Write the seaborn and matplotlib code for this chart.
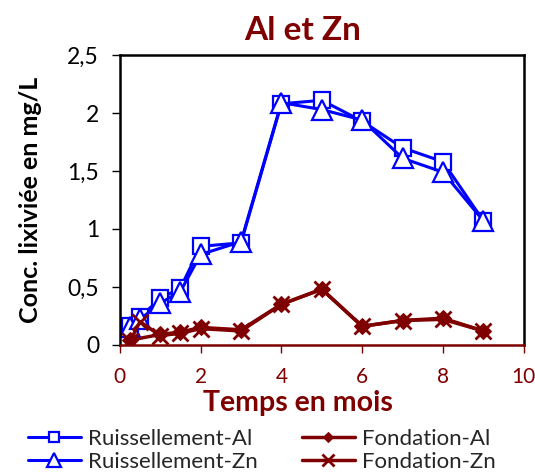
import numpy as np
import pandas as pd
import matplotlib
matplotlib.use("Agg")
import matplotlib.pyplot as plt
import seaborn as sns

# -------------------------------
# Data
# -------------------------------
x_ruis = [0.25, 0.5, 1, 1.5, 2, 3, 4, 5, 6, 7, 8, 9]
ruis_al = [0.16, 0.24, 0.40, 0.49, 0.85, 0.88, 2.08, 2.11, 1.93, 1.70, 1.58, 1.07]
ruis_zn = [0.15, 0.22, 0.36, 0.46, 0.78, 0.89, 2.09, 2.03, 1.94, 1.61, 1.49, 1.07]

x_fond_al = [0.25, 1, 1.5, 2, 3, 4, 5, 6, 7, 8, 9]
fond_al = [0.04, 0.09, 0.11, 0.15, 0.13, 0.35, 0.48, 0.16, 0.21, 0.23, 0.12]
x_fond_zn = [0.25, 0.5, 1, 1.5, 2, 3, 4, 5, 6, 7, 8, 9]
fond_zn = [0.03, 0.20, 0.08, 0.10, 0.14, 0.12, 0.35, 0.48, 0.16, 0.21, 0.22, 0.12]

y_ticks = [0, 0.5, 1, 1.5, 2, 2.5]
y_ticklabels = ["0", "0,5", "1", "1,5", "2", "2,5"]
x_ticks = [0, 2, 4, 6, 8, 10]

blue = "#0000FF"
dark_red = "#7F0000"

sns.set_style("white")
plt.rcParams["font.family"] = ["Lato", "DejaVu Sans"]

fig = plt.figure(figsize=(5.35, 4.75), dpi=100)
ax = fig.add_axes([0.224, 0.274, 0.755, 0.610])

sns.lineplot(x=x_ruis, y=ruis_al, ax=ax, color=blue, linewidth=2.2,
             marker="s", markersize=11, markerfacecolor="white",
             markeredgecolor=blue, markeredgewidth=1.6, label="Ruissellement-Al")
sns.lineplot(x=x_ruis, y=ruis_zn, ax=ax, color=blue, linewidth=2.2,
             marker="^", markersize=14, markerfacecolor="white",
             markeredgecolor=blue, markeredgewidth=1.6, label="Ruissellement-Zn")
sns.lineplot(x=x_fond_al, y=fond_al, ax=ax, color=dark_red, linewidth=2.5,
             marker="D", markersize=8, markerfacecolor=dark_red,
             markeredgecolor=dark_red, label="Fondation-Al")
sns.lineplot(x=x_fond_zn, y=fond_zn, ax=ax, color=dark_red, linewidth=2.5,
             marker="x", markersize=12, markeredgewidth=2,
             markeredgecolor=dark_red, label="Fondation-Zn")

ax.set_xlim(0, 10)
ax.set_ylim(0, 2.5)
ax.set_xticks(x_ticks)
ax.set_xticklabels([str(v) for v in x_ticks])
ax.set_yticks(y_ticks)
ax.set_yticklabels(y_ticklabels)

for side in ["top", "right", "left"]:
    ax.spines[side].set_color("black")
    ax.spines[side].set_linewidth(1.8)
ax.spines["bottom"].set_color(dark_red)
ax.spines["bottom"].set_linewidth(1.8)

ax.tick_params(axis="x", colors=dark_red, labelsize=15, direction="out",
               length=6, width=1, bottom=True, pad=10)
ax.tick_params(axis="y", colors="black", labelsize=16.5, direction="out",
               length=6, width=1, left=True, pad=9)

ax.set_title("Al et Zn", color=dark_red, fontsize=24, fontweight="bold",
             x=0.453, pad=11)
ax.set_xlabel("Temps en mois", color=dark_red, fontsize=20.5, fontweight="bold",
              labelpad=2, x=0.44)
ax.set_ylabel("Conc. lixiviée en mg/L", color="black", fontsize=18, fontweight="bold",
              labelpad=18)

ax.legend(loc="upper left", bbox_to_anchor=(-0.267, -0.236), ncol=2, frameon=False,
          fontsize=16, handlelength=2.4, columnspacing=2.0, labelspacing=0.15,
          markerscale=0.7, handletextpad=0.3, borderpad=0.2)

fig.savefig("out.png", dpi=100)
